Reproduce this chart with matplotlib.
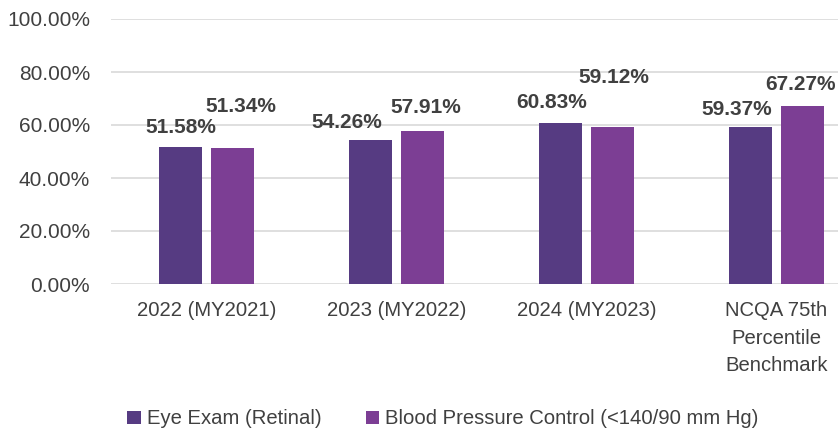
import numpy as np
import matplotlib
matplotlib.use("Agg")
import matplotlib.pyplot as plt
from matplotlib.patches import Patch

# ── Data ──────────────────────────────────────────────────────────────────────
categories = ["2022 (MY2021)", "2023 (MY2022)", "2024 (MY2023)",
              "NCQA 75th\nPercentile\nBenchmark"]
eye_exam = [51.58, 54.26, 60.83, 59.37]
bp_control = [51.34, 57.91, 59.12, 67.27]
series_names = ["Eye Exam (Retinal)", "Blood Pressure Control (<140/90 mm Hg)"]
y_ticks = [0, 20, 40, 60, 80, 100]

# label nudges (pixels) – labels in the original were hand placed
eye_dx = [0, -24, -9, -14]
eye_dy = [20, 18, 20, 17]
bp_dx = [8, 3, 1, -2]
bp_dy = [41, 23, 50, 21]

# ── Style ─────────────────────────────────────────────────────────────────────
plt.rcParams["font.family"] = ["Liberation Sans", "DejaVu Sans"]
TEXT = "#404040"
C_EYE = "#563b82"
C_BP = "#7c3e94"
GRID = "#d9d9d9"

fig = plt.figure(figsize=(8.38, 4.32), dpi=100)
ax = fig.add_axes([111 / 838, 1 - 284 / 432, 1 - 111 / 838, (284 - 19) / 432])

x = np.arange(len(categories))
w = 0.224
off = 0.137

b1 = ax.bar(x - off, eye_exam, width=w, color=C_EYE, zorder=3)
b2 = ax.bar(x + off, bp_control, width=w, color=C_BP, zorder=3)

px = 72 / fig.dpi  # pixels -> points
for bar, v, dx, dy in zip(b1, eye_exam, eye_dx, eye_dy):
    ax.annotate(f"{v:.2f}%", (bar.get_x() + bar.get_width() / 2, v),
                xytext=(dx * px, dy * px), textcoords="offset points",
                ha="center", va="center", fontsize=15, fontweight="bold",
                color=TEXT)
for bar, v, dx, dy in zip(b2, bp_control, bp_dx, bp_dy):
    ax.annotate(f"{v:.2f}%", (bar.get_x() + bar.get_width() / 2, v),
                xytext=(dx * px, dy * px), textcoords="offset points",
                ha="center", va="center", fontsize=15, fontweight="bold",
                color=TEXT)

ax.set_ylim(0, 100)
ax.set_xlim(-0.5026, 3.324)
ax.set_yticks(y_ticks)
ax.set_yticklabels([f"{t:.2f}%" for t in y_ticks])
ax.set_xticks(x)
ax.set_xticklabels(categories, linespacing=1.55)
ax.tick_params(axis="y", length=0, pad=15, labelsize=15, labelcolor=TEXT)
ax.tick_params(axis="x", length=0, pad=12.5, labelsize=14.6, labelcolor=TEXT)
ax.grid(axis="y", color=GRID, linewidth=1.2, zorder=0)
for s in ax.spines.values():
    s.set_visible(False)

handles = [Patch(facecolor=C_EYE), Patch(facecolor=C_BP)]
fig.legend(handles, series_names, loc="center", bbox_to_anchor=(443 / 838, 1 - 419 / 432),
           ncol=2, frameon=False, fontsize=14.6, handlelength=0.65, handleheight=0.65,
           handletextpad=0.3, columnspacing=2.2, labelcolor=TEXT)

fig.savefig("out.png", dpi=100)
